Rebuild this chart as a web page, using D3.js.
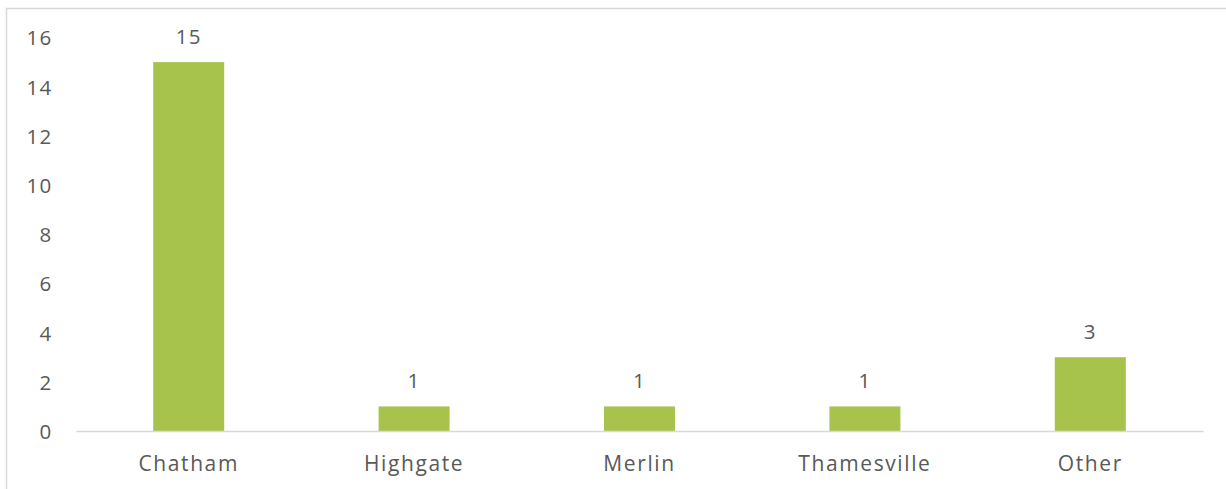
<!DOCTYPE html>
<html>
<head>
<meta charset="utf-8">
<script src="https://cdn.jsdelivr.net/npm/d3@7"></script>
<style>
  html, body { margin: 0; padding: 0; background: #fff; }
  svg { display: block; }
  text { font-family: "Open Sans", sans-serif; fill: #595959; }
</style>
</head>
<body>
<svg id="chart" width="1226" height="489"></svg>
<script>
const categories = ["Chatham", "Highgate", "Merlin", "Thamesville", "Other"];
const values = [15, 1, 1, 1, 3];
const yTicks = [0, 2, 4, 6, 8, 10, 12, 14, 16];

const svg = d3.select("#chart");
const W = 1226, H = 489;
const plot = { left: 76, right: 1203, top: 37.5, bottom: 431 };

// frame (left and top visible)
svg.append("path")
  .attr("d", `M6.5,${H} L6.5,8.5 L${W},8.5`)
  .attr("fill", "none")
  .attr("stroke", "#d9d9d9")
  .attr("stroke-width", 1.5);

const x = d3.scaleBand().domain(categories).range([plot.left, plot.right]).paddingInner(0).paddingOuter(0);
const y = d3.scaleLinear().domain([0, 16]).range([plot.bottom, plot.top]);

const barFrac = 0.315;
const bw = x.bandwidth() * barFrac;

// y axis labels
const yAxis = d3.axisLeft(y).tickValues(yTicks).tickSize(0).tickPadding(0);
const gy = svg.append("g").attr("transform", `translate(52.5,0)`).call(yAxis);
gy.select(".domain").remove();
gy.selectAll("text")
  .style("font-family", "'Open Sans', sans-serif")
  .style("font-size", "20.5px")
  .style("letter-spacing", "1.3px")
  .attr("fill", "#595959")
  .attr("dy", "0.36em");

// bars
svg.append("g").selectAll("rect")
  .data(values)
  .join("rect")
  .attr("x", (d, i) => x(categories[i]) + (x.bandwidth() - bw) / 2)
  .attr("width", bw)
  .attr("y", d => y(d))
  .attr("height", d => y(0) - y(d))
  .attr("fill", "#a8c34b");

// x axis line & labels
const xAxis = d3.axisBottom(x).tickSize(0).tickPadding(0);
const gx = svg.append("g").attr("transform", `translate(0,${plot.bottom})`).call(xAxis);
gx.select(".domain").attr("stroke", "#d9d9d9").attr("stroke-width", 1.5);
gx.selectAll("text")
  .style("font-family", "'Open Sans', sans-serif")
  .style("font-size", "21px")
  .style("letter-spacing", "1.6px")
  .attr("fill", "#595959")
  .attr("y", 39.5)
  .attr("dy", 0);

// value labels
svg.append("g").selectAll("text")
  .data(values)
  .join("text")
  .attr("x", (d, i) => x(categories[i]) + x.bandwidth() / 2)
  .attr("y", d => y(d) - 18)
  .attr("text-anchor", "middle")
  .style("font-size", "20.5px")
  .style("letter-spacing", "1.3px")
  .text(d => d);
</script>
</body>
</html>
